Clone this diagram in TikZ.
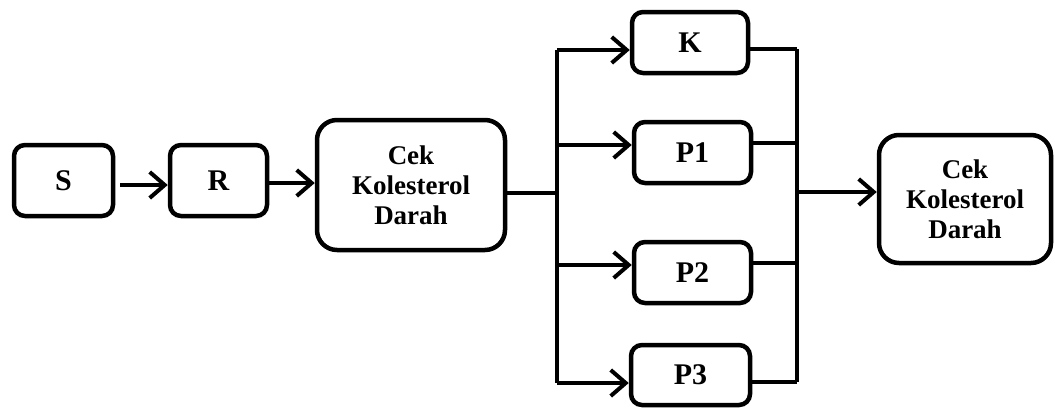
\documentclass[tikz,border=0pt]{standalone}
\usepackage{fontspec}
\setmainfont{Liberation Serif}
\usetikzlibrary{arrows.meta}

\begin{document}
\begin{tikzpicture}[x = 1pt, y = -1pt,
	box/.style = {draw, line width = 4.5pt, rounded corners = 11pt, align = center, inner sep = 0pt, font = \fontsize{30}{30}\selectfont\bfseries},
	bigbox/.style = {box, rounded corners = 20pt, font = \fontsize{27}{30}\selectfont\bfseries},
	ln/.style = {line width = 4pt},
	arr/.style = {ln, -{Straight Barb[length = 15pt, width = 26pt]}}]
	\useasboundingbox (0,0) rectangle (1055,410);
	\node[box, minimum width = 99pt, minimum height = 71pt] (S) at (63.5,180.5) {S};
	\node[box, minimum width = 97pt, minimum height = 71pt] (R) at (218.5,180.5) {R};
	\node[bigbox, minimum width = 188pt, minimum height = 130pt] (cek1) at (411,185) {Cek\\Kolesterol\\Darah};
	\node[box, minimum width = 116pt, minimum height = 61pt] (K) at (690,42.5) {K};
	\node[box, minimum width = 117pt, minimum height = 61pt] (P1) at (692.5,152.5) {P1};
	\node[box, minimum width = 117pt, minimum height = 61pt] (P2) at (692.5,272.5) {P2};
	\node[box, minimum width = 119pt, minimum height = 60pt] (P3) at (690.5,375) {P3};
	\node[bigbox, minimum width = 172pt, minimum height = 128pt] (cek2) at (965,199) {Cek\\Kolesterol\\Darah};
	\coordinate (sr) at (143,185);
	\coordinate (rk) at (293,183);
	\coordinate (lc) at (557,193);
	\coordinate (l1) at (557,50);
	\coordinate (l2) at (557,145);
	\coordinate (l3) at (557,265);
	\coordinate (l4) at (557,383);
	\coordinate (rc) at (797,192);
	\coordinate (r1) at (797,49);
	\coordinate (r2) at (797,143);
	\coordinate (r3) at (797,263);
	\coordinate (r4) at (797,382);
	\draw[arr, shorten <= 5pt] (S.east |- sr) -- (sr -| R.west);
	\draw[arr] (R.east |- rk) -- (rk -| cek1.west);
	\draw[ln] (cek1.east |- lc) -- (lc);
	\draw[ln] (l1) -- (l4);
	\draw[arr] (l1) -- (l1 -| K.west);
	\draw[arr] (l2) -- (l2 -| P1.west);
	\draw[arr] (l3) -- (l3 -| P2.west);
	\draw[arr] (l4) -- (l4 -| P3.west);
	\draw[ln] (K.east |- r1) -- (r1);
	\draw[ln] (P1.east |- r2) -- (r2);
	\draw[ln] (P2.east |- r3) -- (r3);
	\draw[ln] (P3.east |- r4) -- (r4);
	\draw[ln] (r1) -- (r4);
	\draw[arr] (rc) -- (rc -| cek2.west);
\end{tikzpicture}
\end{document}
